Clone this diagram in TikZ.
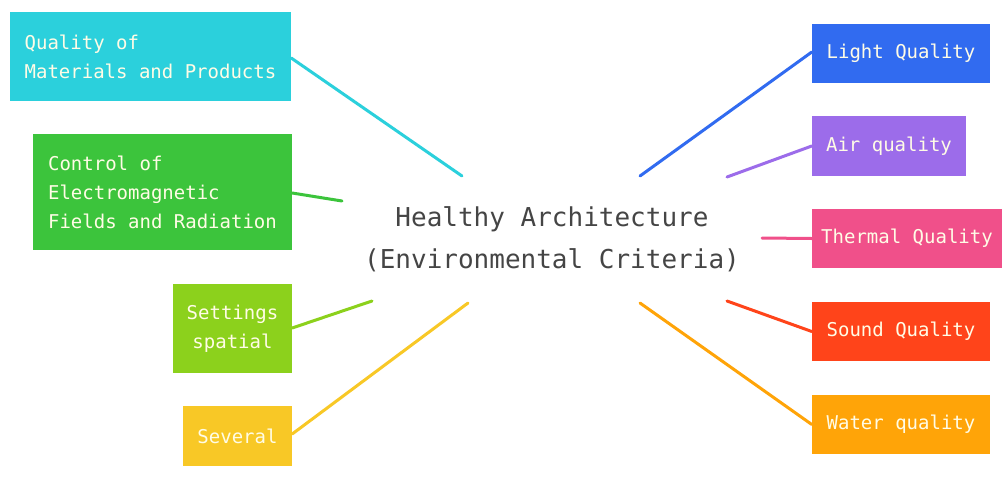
\documentclass[tikz,border=0pt]{standalone}
\usepackage{fontspec}
\setmonofont{DejaVu Sans Mono}
\definecolor{cMat}{HTML}{2BD0DC}
\definecolor{cEmf}{HTML}{3CC43C}
\definecolor{cSpa}{HTML}{8CD11C}
\definecolor{cSev}{HTML}{F8C826}
\definecolor{cLig}{HTML}{316BF0}
\definecolor{cAir}{HTML}{9C6CEA}
\definecolor{cThe}{HTML}{F0508A}
\definecolor{cSou}{HTML}{FF441A}
\definecolor{cWat}{HTML}{FFA408}
\definecolor{boxtext}{HTML}{FFFCE6}
\definecolor{hubtext}{HTML}{454545}
\tikzset{
  topic/.style={rectangle, draw=none, inner sep=0pt, text=boxtext,
    font=\ttfamily\fontsize{19}{29}\selectfont},
  link/.style={line width=3pt, line cap=round},
}
\begin{document}
\begin{tikzpicture}[x=1pt,y=-1pt]
\useasboundingbox (0,0) rectangle (1002,477);
\fill[white] (0,0) rectangle (1002,477);

% central topic
\node[font=\ttfamily\fontsize{26}{42}\selectfont, text=hubtext, align=center]
  (hub) at (552,239) {Healthy Architecture\\(Environmental Criteria)};

% left branches
\node[topic, fill=cMat, minimum width=281pt, minimum height=89pt,
  align=left] (mat) at (150.5,56.5)
  {Quality of\\Materials and Products};
\node[topic, fill=cEmf, minimum width=259pt, minimum height=116pt,
  align=left] (emf) at (162.5,192)
  {Control of\\Electromagnetic\\Fields and Radiation};
\node[topic, fill=cSpa, minimum width=119pt, minimum height=89pt,
  align=center] (spa) at (232.5,328.5) {Settings\\spatial};
\node[topic, fill=cSev, minimum width=109pt, minimum height=60pt,
  align=center] (sev) at (237.5,436) {Several};

% right branches
\node[topic, fill=cLig, minimum width=178pt, minimum height=59pt] (lig) at (901,53.5) {Light Quality};
\node[topic, fill=cAir, minimum width=154pt, minimum height=60pt] (air) at (889,146) {Air quality};
\node[topic, fill=cThe, minimum width=190pt, minimum height=59pt] (the) at (907,238.5) {Thermal Quality};
\node[topic, fill=cSou, minimum width=178pt, minimum height=59pt] (sou) at (901,331.5) {Sound Quality};
\node[topic, fill=cWat, minimum width=178pt, minimum height=59pt] (wat) at (901,424.5) {Water quality};

% free ends of the connectors around the central topic
\coordinate (eMat) at (462,176);
\coordinate (eEmf) at (342,201);
\coordinate (eSpa) at (372,301);
\coordinate (eSev) at (468,303);
\coordinate (eLig) at (640,176);
\coordinate (eAir) at (727,177);
\coordinate (eThe) at (762,238);
\coordinate (eSou) at (727,301);
\coordinate (eWat) at (640,303);

% connectors
\draw[link, cMat] (mat.east |- 0,58) -- (eMat);
\draw[link, cEmf] (emf.east |- 0,193) -- (eEmf);
\draw[link, cSpa] (spa.east |- 0,328) -- (eSpa);
\draw[link, cSev] (sev.east |- 0,434) -- (eSev);
\draw[link, cLig] (lig.west |- 0,52) -- (eLig);
\draw[link, cAir] (air.west) -- (eAir);
\draw[link, cThe] (the.west) -- (eThe);
\draw[link, cSou] (sou.west) -- (eSou);
\draw[link, cWat] (wat.west) -- (eWat);
\end{tikzpicture}
\end{document}
